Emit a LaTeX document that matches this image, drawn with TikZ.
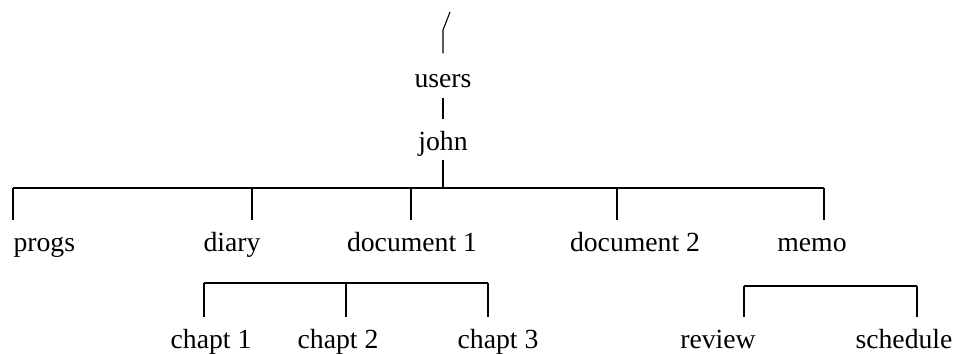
\documentclass[tikz,border=0pt]{standalone}
\usepackage{fontspec}
\setmainfont{Liberation Serif}
\tikzset{x=0.5pt, y=-0.5pt,
    dir/.style={inner sep=0pt, anchor=base, text height=15pt, text depth=4.5pt,
        font=\fontsize{13.85}{16}\selectfont},
    every path/.style={line width=0.55pt},
    }

\begin{document}
\begin{tikzpicture}
	\useasboundingbox (0,0) rectangle (957,353);
	% directory names
	\node[dir] (users) at (443,88) {users};
	\node[dir] (john) at (443,150) {john};
	\node[dir, anchor=base west] (progs) at (13,251) {progs};
	\node[dir] (diary) at (232,251) {diary};
	\node[dir] (doc1) at (412,251) {document 1};
	\node[dir] (doc2) at (635,251) {document 2};
	\node[dir] (memo) at (812,251) {memo};
	\node[dir] (chapt1) at (211,348) {chapt 1};
	\node[dir] (chapt2) at (338,348) {chapt 2};
	\node[dir] (chapt3) at (498,348) {chapt 3};
	\node[dir] (review) at (718,348) {review};
	\node[dir] (schedule) at (904,348) {schedule};
	% the path down from the root
	\coordinate (root) at (450,12);
	\coordinate (bend) at (443,30);
	\draw[shorten >=2pt] (root) -- (bend) -- (users.north);
	\draw (users.south) -- (john.north);
	% first level
	\coordinate (t-progs) at (13,188);
	\coordinate (t-diary) at (252,188);
	\coordinate (t-doc1) at (411,188);
	\coordinate (t-doc2) at (617,188);
	\coordinate (t-memo) at (824,188);
	\draw (john.south) -- (john.south |- t-memo);
	\draw (t-progs) -- (t-memo);
	\foreach \d in {progs,diary,doc1,doc2,memo}
		\draw (t-\d) -- (t-\d |- \d.north);
	% under document 1
	\coordinate (t-chapt1) at (204,283);
	\coordinate (t-chapt2) at (346,283);
	\coordinate (t-chapt3) at (488,283);
	\draw (t-chapt1) -- (t-chapt3);
	% under memo
	\coordinate (t-review) at (744,286);
	\coordinate (t-schedule) at (917,286);
	\draw (t-review) -- (t-schedule);
	\foreach \d in {chapt1,chapt2,chapt3,review,schedule}
		\draw (t-\d) -- (t-\d |- \d.north);
\end{tikzpicture}
\end{document}
